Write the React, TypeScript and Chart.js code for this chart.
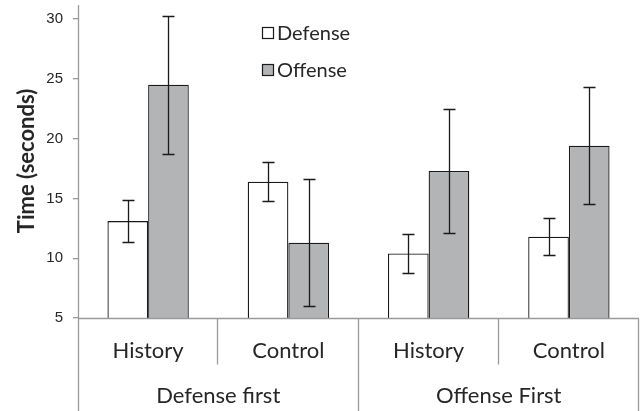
import React, { useEffect, useRef } from "react";
import { Chart, registerables } from "chart.js";

Chart.register(...registerables);

const categories = ["History", "Control", "History", "Control"];
const groups = ["Defense first", "Offense First"];
const seriesNames = ["Defense", "Offense"];
const defenseValues = [13.1, 16.4, 10.4, 11.8];
const offenseValues = [24.5, 11.3, 17.3, 19.4];
const defenseErrors = [1.75, 1.65, 1.6, 1.55];
const offenseErrors = [5.75, 5.3, 5.2, 4.9];
const yTicks = [5, 10, 15, 20, 25, 30];
const yTitle = "Time (seconds)";

const errors = [defenseErrors, offenseErrors];
const fills = ["#ffffff", "#b3b4b6"];

const TEXT = "#262626";
const AXIS = "#9a9a9a";

const overlay = {
  id: "overlay",
  afterDatasetsDraw(chart: any) {
    const ctx = chart.ctx;
    const y = chart.scales.y;
    const x = chart.scales.x;
    const area = chart.chartArea;
    ctx.save();
    // error bars
    ctx.strokeStyle = "#1a1a1a";
    ctx.lineWidth = 1.3;
    chart.data.datasets.forEach((ds: any, i: number) => {
      const meta = chart.getDatasetMeta(i);
      meta.data.forEach((bar: any, j: number) => {
        const v = ds.data[j];
        const e = errors[i][j];
        const top = Math.round(y.getPixelForValue(v + e)) + 0.5;
        const bot = Math.round(y.getPixelForValue(v - e)) + 0.5;
        const cx = Math.round(bar.x) + 0.5;
        ctx.beginPath();
        ctx.moveTo(cx, top);
        ctx.lineTo(cx, bot);
        ctx.moveTo(cx - 6, top);
        ctx.lineTo(cx + 6, top);
        ctx.moveTo(cx - 6, bot);
        ctx.lineTo(cx + 6, bot);
        ctx.stroke();
      });
    });
    // axis lines
    ctx.strokeStyle = AXIS;
    ctx.lineWidth = 1.3;
    const left = Math.round(area.left) + 0.5;
    const base = Math.round(area.bottom) + 0.5;
    const H = chart.height;
    ctx.beginPath();
    ctx.moveTo(left, 5);
    ctx.lineTo(left, H);
    ctx.moveTo(left, base);
    ctx.lineTo(area.right, base);
    ctx.stroke();
    // category separators
    const n = categories.length;
    const step = (area.right - area.left) / n;
    ctx.beginPath();
    for (let k = 1; k <= n; k++) {
      const sx = Math.round(area.left + step * k) - 0.5;
      const isGroup = k % 2 === 0;
      ctx.moveTo(sx, base);
      ctx.lineTo(sx, isGroup ? H : base + 46);
    }
    ctx.stroke();
    // category labels
    ctx.fillStyle = TEXT;
    ctx.font = "22px Lato";
    ctx.textAlign = "center";
    ctx.textBaseline = "alphabetic";
    categories.forEach((c, j) => {
      ctx.fillText(c, x.getPixelForValue(j), base + 39);
    });
    groups.forEach((g, gi) => {
      const cx = (x.getPixelForValue(gi * 2) + x.getPixelForValue(gi * 2 + 1)) / 2;
      ctx.fillText(g, cx, base + 84);
    });
    // legend
    ctx.font = "20px Lato";
    ctx.textAlign = "left";
    ctx.textBaseline = "middle";
    chart.data.datasets.forEach((ds: any, i: number) => {
      const ly = 33 + i * 37;
      ctx.fillStyle = fills[i];
      ctx.fillRect(262, ly - 5.5, 11, 11);
      ctx.strokeStyle = "#1a1a1a";
      ctx.lineWidth = 1.2;
      ctx.strokeRect(262.5, ly - 5.5, 11, 11);
      ctx.fillStyle = TEXT;
      ctx.fillText(ds.label, 277, ly + 1);
    });
    // y title
    ctx.save();
    ctx.translate(27, 161);
    ctx.rotate(-Math.PI / 2);
    ctx.font = "bold 22px Lato";
    ctx.textAlign = "center";
    ctx.textBaseline = "middle";
    ctx.fillStyle = TEXT;
    ctx.fillText(yTitle, 0, 0);
    ctx.restore();
    ctx.restore();
  },
};

export default function App() {
  const ref = useRef<HTMLCanvasElement>(null);
  useEffect(() => {
    if (!ref.current) return;
    const chart = new Chart(ref.current, {
      type: "bar",
      data: {
        labels: categories,
        datasets: [
          {
            label: seriesNames[0],
            data: defenseValues,
            backgroundColor: fills[0],
            borderColor: "#1a1a1a",
            borderWidth: 1.3,
          },
          {
            label: seriesNames[1],
            data: offenseValues,
            backgroundColor: fills[1],
            borderColor: "#1a1a1a",
            borderWidth: 1.3,
          },
        ],
      },
      options: {
        responsive: false,
        animation: false,
        layout: { padding: { left: 0, right: 1, top: 17, bottom: 93 } },
        datasets: { bar: { categoryPercentage: 0.58, barPercentage: 1.0 } },
        plugins: { legend: { display: false }, tooltip: { enabled: false } },
        scales: {
          x: { display: false },
          y: {
            min: yTicks[0],
            max: yTicks[yTicks.length - 1],
            afterFit: (s: any) => {
              s.width = 78;
            },
            afterBuildTicks: (s: any) => {
              s.ticks = yTicks.map((v) => ({ value: v }));
            },
            border: { display: false },
            grid: {
              display: true,
              drawOnChartArea: false,
              drawTicks: true,
              tickLength: 5,
              color: AXIS,
              lineWidth: 1.3,
            },
            ticks: {
              padding: 10,
              color: TEXT,
              font: { family: "Liberation Sans", size: 15 },
            },
          },
        },
      },
      plugins: [overlay],
    });
    return () => chart.destroy();
  }, []);
  return (
    <div style={{ position: "fixed", left: 0, top: 0, width: 640, height: 411, background: "#fff" }}>
      <canvas ref={ref} width={640} height={411} style={{ display: "block" }} />
    </div>
  );
}
